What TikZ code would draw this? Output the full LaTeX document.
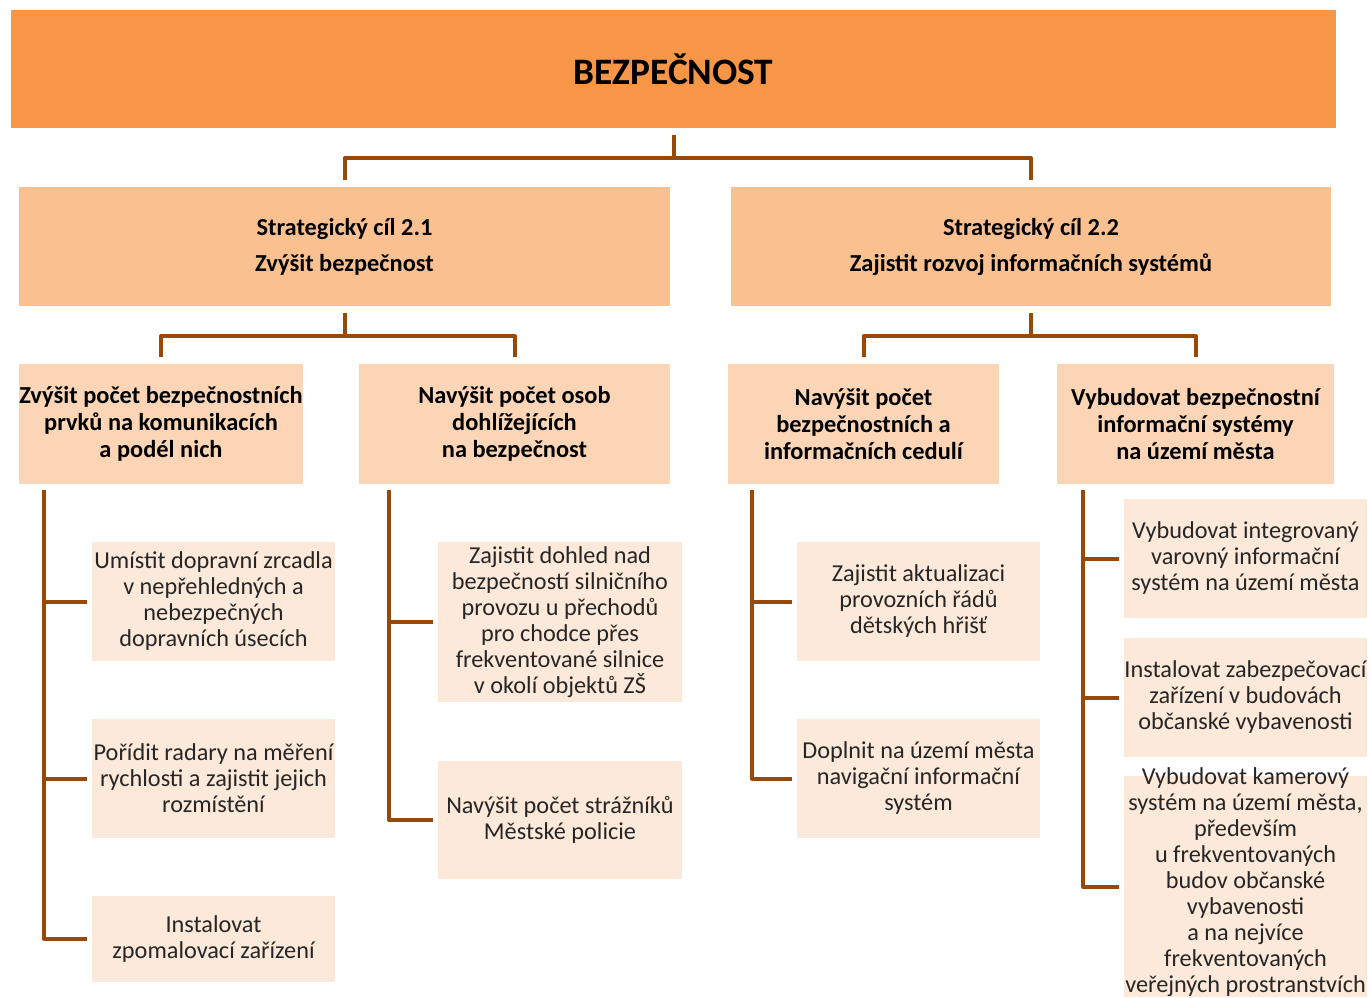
\documentclass[tikz,border=0pt]{standalone}
\usepackage{fontspec}
\setmainfont{Carlito}
\definecolor{topor}{HTML}{F79646}
\definecolor{cilor}{HTML}{FAC090}
\definecolor{podor}{HTML}{FBD5B5}
\definecolor{akor}{HTML}{FDE9D9}
\definecolor{vetev}{HTML}{984807}
\begin{document}
\begin{tikzpicture}[x=0.75pt,y=-0.75pt,
  hlavni/.style={fill=topor,inner sep=0pt,minimum width=993.75pt,minimum height=88.5pt,font=\bfseries\fontsize{28}{32}\selectfont},
  cil/.style={fill=cilor,inner sep=0pt,minimum height=89.25pt,align=center,font=\bfseries\fontsize{18.3}{27}\selectfont},
  opatreni/.style={fill=podor,inner sep=0pt,minimum height=90pt,align=center,font=\bfseries\fontsize{18.3}{20}\selectfont},
  aktivita/.style={fill=akor,inner sep=0pt,minimum width=182.5pt,align=center,text=black!85,font=\fontsize{18.2}{19.5}\selectfont},
  spoj/.style={draw=vetev,line width=3pt,line join=round}]
\useasboundingbox (0,0) rectangle (1371,997);

\node[hlavni] (top) at (673.5,69) {BEZPEČNOST};

\node[cil,minimum width=488.25pt] (s21) at (344.5,246.5) {Strategický cíl 2.1\\Zvýšit bezpečnost};
\node[cil,minimum width=450pt] (s22) at (1031,246.5) {Strategický cíl 2.2\\Zajistit rozvoj informačních systémů};

\node[opatreni,minimum width=211.5pt] (a) at (161,424) {Zvýšit počet bezpečnostních\\prvků na komunikacích\\a podél nich};
\node[opatreni,minimum width=233.25pt] (b) at (514.5,424) {Navýšit počet osob\\dohlížejících\\na bezpečnost};
\node[opatreni,minimum width=203.25pt] (c) at (863.5,424) {Navýšit počet\\bezpečnostních a\\informačních cedulí};
\node[opatreni,minimum width=207.75pt] (d) at (1195.5,424) {Vybudovat bezpečnostní\\informační systémy\\na území města};

\node[aktivita,minimum height=89.25pt] (a1) at (213.5,601.5) {Umístit dopravní zrcadla\\v nepřehledných a\\nebezpečných\\dopravních úsecích};
\node[aktivita,minimum height=89.25pt] (a2) at (213.5,778.5) {Pořídit radary na měření\\rychlosti a zajistit jejich\\rozmístění};
\node[aktivita,minimum height=64.5pt] (a3) at (213.5,939) {Instalovat\\zpomalovací zařízení};

\node[aktivita,minimum height=120pt] (b1) at (560,622) {Zajistit dohled nad\\bezpečností silničního\\provozu u přechodů\\pro chodce přes\\frekventované silnice\\v okolí objektů ZŠ};
\node[aktivita,minimum height=88.5pt] (b2) at (560,820) {Navýšit počet strážníků\\Městské policie};

\node[aktivita,minimum height=89.25pt] (c1) at (918.5,601.5) {Zajistit aktualizaci\\provozních řádů\\dětských hřišť};
\node[aktivita,minimum height=89.25pt] (c2) at (918.5,778.5) {Doplnit na území města\\navigační informační\\systém};

\node[aktivita,minimum height=89.25pt] (d1) at (1245.5,558.5) {Vybudovat integrovaný\\varovný informační\\systém na území města};
\node[aktivita,minimum height=89.25pt] (d2) at (1245.5,697.5) {Instalovat zabezpečovací\\zařízení v budovách\\občanské vybavenosti};
\node[aktivita] (d3) at (1245.5,886.5) {\parbox[c][165.75pt][c]{182.5pt}{\centering\vspace*{-6pt}Vybudovat kamerový\\systém na území města,\\především\\u frekventovaných\\budov občanské\\vybavenosti\\a na nejvíce\\frekventovaných\\veřejných prostranstvích}};

\draw[spoj] ([yshift=-5pt]top.south) -- ([yshift=-22.5pt]top.south) coordinate (j0);
\draw[spoj] ([yshift=5pt]s21.north) |- (j0) -| ([yshift=5pt]s22.north);

\draw[spoj] ([yshift=-5pt]s21.south) -- ([yshift=-22.5pt]s21.south) coordinate (j1);
\draw[spoj] ([yshift=5pt]a.north) |- (j1) -| ([yshift=5pt]b.north);
\draw[spoj] ([yshift=-5pt]s22.south) -- ([yshift=-22.5pt]s22.south) coordinate (j2);
\draw[spoj] ([yshift=5pt]c.north) |- (j2) -| ([yshift=5pt]d.north);

\coordinate (ka) at ([xshift=18.75pt,yshift=-4.5pt]a.south west);
\coordinate (kb) at ([xshift=22.5pt,yshift=-4.5pt]b.south west);
\coordinate (kc) at ([xshift=18pt,yshift=-4.5pt]c.south west);
\coordinate (kd) at ([xshift=19.5pt,yshift=-4.5pt]d.south west);
\foreach \k/\n in {ka/a1,ka/a2,ka/a3,kb/b1,kb/b2,kc/c1,kc/c2,kd/d1,kd/d2,kd/d3}
  \draw[spoj] (\k) |- ([xshift=-3.5pt]\n.west);
\end{tikzpicture}
\end{document}
